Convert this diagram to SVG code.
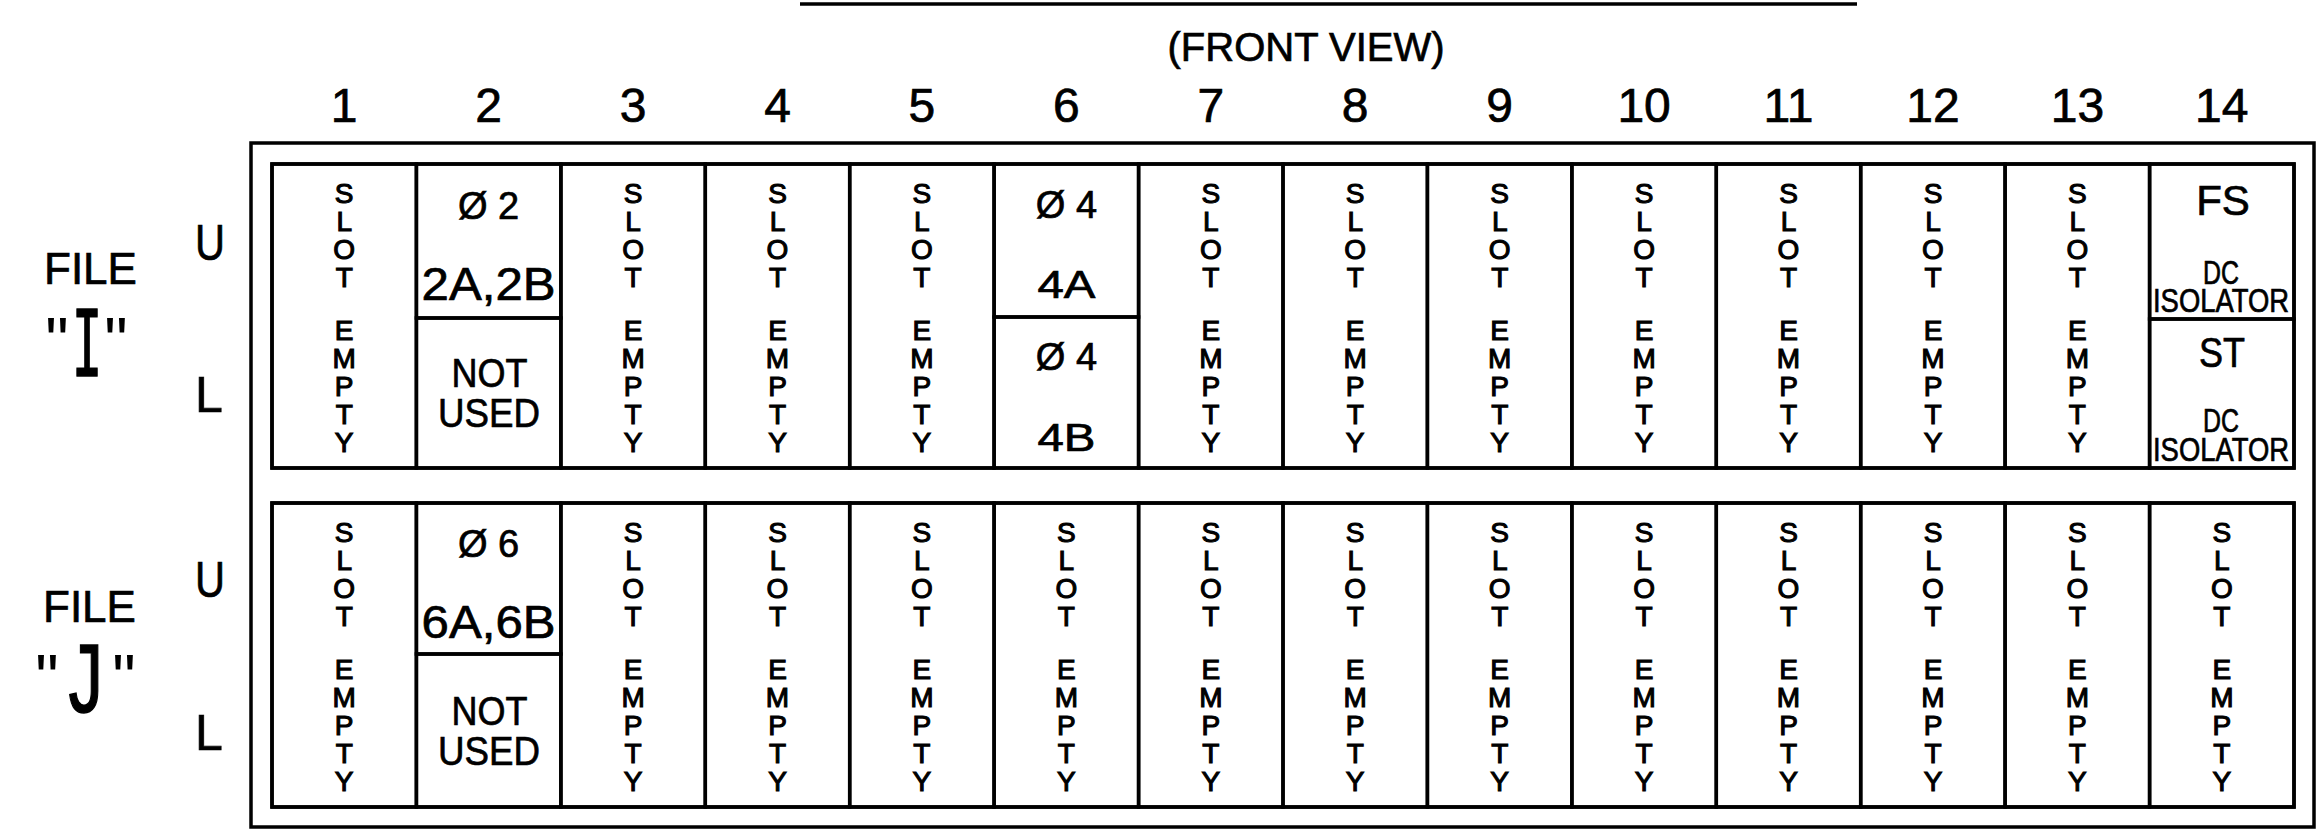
<svg xmlns="http://www.w3.org/2000/svg" width="2318" height="829" viewBox="0 0 2318 829">
<style>
  text { font-family: "Liberation Sans", Arial, sans-serif; fill: #000; stroke: #000; stroke-width: 0.7; }
  .ln { fill: none; stroke: #000; stroke-width: 3.5; }
  .cell { fill: none; stroke: #000; stroke-width: 3.5; }
  .num { font-size: 48px; text-anchor: middle; }
  .v { font-size: 28px; text-anchor: middle; stroke-width: 1.1; }
  .lbl { font-size: 44px; }
  .ul { font-size: 50px; text-anchor: middle; }
  .ph { font-size: 38px; text-anchor: middle; }
  .big { font-size: 46px; text-anchor: middle; }
  .nu { font-size: 41px; text-anchor: middle; }
  .fs { font-size: 42px; text-anchor: middle; }
  .dc { font-size: 33px; text-anchor: middle; }
  .qt { font-size: 66px; text-anchor: middle; stroke-width: 0; }
  .mono { font-family: "Liberation Mono", "Courier New", monospace; font-size: 102px; text-anchor: middle; stroke-width: 1.5; }
</style>
<rect width="2318" height="829" fill="#fff"/>

<g id="header">
  <line class="ln" x1="800" y1="4" x2="1857" y2="4" stroke-width="3"/>
  <text x="1306" y="61" font-size="40" text-anchor="middle">(FRONT VIEW)</text>
  <text class="num" x="344.2" y="122">1</text>
  <text class="num" x="488.6" y="122">2</text>
  <text class="num" x="633.1" y="122">3</text>
  <text class="num" x="777.5" y="122">4</text>
  <text class="num" x="921.9" y="122">5</text>
  <text class="num" x="1066.4" y="122">6</text>
  <text class="num" x="1210.8" y="122">7</text>
  <text class="num" x="1355.2" y="122">8</text>
  <text class="num" x="1499.7" y="122">9</text>
  <text class="num" x="1644.1" y="122">10</text>
  <text class="num" x="1788.5" y="122">11</text>
  <text class="num" x="1933" y="122">12</text>
  <text class="num" x="2077.4" y="122">13</text>
  <text class="num" x="2221.8" y="122">14</text>
</g>

<g id="frame">
  <rect class="ln" x="251" y="143" width="2063" height="684"/>
  <rect class="ln" x="272" y="164" width="2022" height="304"/>
  <rect class="ln" x="272" y="503" width="2022" height="304"/>
</g>

<g id="file-I-labels">
  <text class="lbl" x="44" y="284">FILE</text>
  <text class="qt" x="57" y="364">"</text>
  <text class="mono" x="174" y="376" transform="scale(0.5,1)">I</text>
  <text class="qt" x="116" y="364">"</text>
  <text class="ul" x="210" y="260" textLength="30" lengthAdjust="spacingAndGlyphs">U</text>
  <text class="ul" x="209" y="412">L</text>
</g>
<g id="file-J-labels">
  <text class="lbl" x="43" y="622">FILE</text>
  <text class="qt" x="47" y="701">"</text>
  <text class="mono" x="121.4" y="712" transform="scale(0.7,1)">J</text>
  <text class="qt" x="124" y="701">"</text>
  <text class="ul" x="210" y="597" textLength="30" lengthAdjust="spacingAndGlyphs">U</text>
  <text class="ul" x="209" y="750">L</text>
</g>

<!-- FILE I (upper) -->
<g id="I-1"><rect class="cell" x="272" y="164" width="144.4" height="304"/>
  <text class="v" y="203"><tspan x="344.2">S</tspan><tspan x="344.2" dy="28">L</tspan><tspan x="344.2" dy="28">O</tspan><tspan x="344.2" dy="28">T</tspan></text>
  <text class="v" y="340"><tspan x="344.2">E</tspan><tspan x="344.2" dy="28">M</tspan><tspan x="344.2" dy="28">P</tspan><tspan x="344.2" dy="28">T</tspan><tspan x="344.2" dy="28">Y</tspan></text></g>
<g id="I-2U"><rect class="cell" x="416.4" y="164" width="144.5" height="154"/>
  <text class="ph" x="488.6" y="219">Ø 2</text>
  <text class="big" x="488.6" y="300" textLength="134" lengthAdjust="spacingAndGlyphs">2A,2B</text></g>
<g id="I-2L"><rect class="cell" x="416.4" y="318" width="144.5" height="150"/>
  <text class="nu" x="489.5" y="387" textLength="76" lengthAdjust="spacingAndGlyphs">NOT</text>
  <text class="nu" x="489" y="427" textLength="102" lengthAdjust="spacingAndGlyphs">USED</text></g>
<g id="I-3"><rect class="cell" x="560.9" y="164" width="144.4" height="304"/>
  <text class="v" y="203"><tspan x="633.1">S</tspan><tspan x="633.1" dy="28">L</tspan><tspan x="633.1" dy="28">O</tspan><tspan x="633.1" dy="28">T</tspan></text>
  <text class="v" y="340"><tspan x="633.1">E</tspan><tspan x="633.1" dy="28">M</tspan><tspan x="633.1" dy="28">P</tspan><tspan x="633.1" dy="28">T</tspan><tspan x="633.1" dy="28">Y</tspan></text></g>
<g id="I-4"><rect class="cell" x="705.3" y="164" width="144.4" height="304"/>
  <text class="v" y="203"><tspan x="777.5">S</tspan><tspan x="777.5" dy="28">L</tspan><tspan x="777.5" dy="28">O</tspan><tspan x="777.5" dy="28">T</tspan></text>
  <text class="v" y="340"><tspan x="777.5">E</tspan><tspan x="777.5" dy="28">M</tspan><tspan x="777.5" dy="28">P</tspan><tspan x="777.5" dy="28">T</tspan><tspan x="777.5" dy="28">Y</tspan></text></g>
<g id="I-5"><rect class="cell" x="849.7" y="164" width="144.4" height="304"/>
  <text class="v" y="203"><tspan x="921.9">S</tspan><tspan x="921.9" dy="28">L</tspan><tspan x="921.9" dy="28">O</tspan><tspan x="921.9" dy="28">T</tspan></text>
  <text class="v" y="340"><tspan x="921.9">E</tspan><tspan x="921.9" dy="28">M</tspan><tspan x="921.9" dy="28">P</tspan><tspan x="921.9" dy="28">T</tspan><tspan x="921.9" dy="28">Y</tspan></text></g>
<g id="I-6U"><rect class="cell" x="994.1" y="164" width="144.5" height="153"/>
  <text class="ph" x="1066.4" y="218">Ø 4</text>
  <text class="ph" x="1066.4" y="298" font-size="40" textLength="58" lengthAdjust="spacingAndGlyphs">4A</text></g>
<g id="I-6L"><rect class="cell" x="994.1" y="317" width="144.5" height="151"/>
  <text class="ph" x="1066.4" y="370">Ø 4</text>
  <text class="ph" x="1066.4" y="451" font-size="40" textLength="58" lengthAdjust="spacingAndGlyphs">4B</text></g>
<g id="I-7"><rect class="cell" x="1138.6" y="164" width="144.4" height="304"/>
  <text class="v" y="203"><tspan x="1210.8">S</tspan><tspan x="1210.8" dy="28">L</tspan><tspan x="1210.8" dy="28">O</tspan><tspan x="1210.8" dy="28">T</tspan></text>
  <text class="v" y="340"><tspan x="1210.8">E</tspan><tspan x="1210.8" dy="28">M</tspan><tspan x="1210.8" dy="28">P</tspan><tspan x="1210.8" dy="28">T</tspan><tspan x="1210.8" dy="28">Y</tspan></text></g>
<g id="I-8"><rect class="cell" x="1283" y="164" width="144.4" height="304"/>
  <text class="v" y="203"><tspan x="1355.2">S</tspan><tspan x="1355.2" dy="28">L</tspan><tspan x="1355.2" dy="28">O</tspan><tspan x="1355.2" dy="28">T</tspan></text>
  <text class="v" y="340"><tspan x="1355.2">E</tspan><tspan x="1355.2" dy="28">M</tspan><tspan x="1355.2" dy="28">P</tspan><tspan x="1355.2" dy="28">T</tspan><tspan x="1355.2" dy="28">Y</tspan></text></g>
<g id="I-9"><rect class="cell" x="1427.4" y="164" width="144.5" height="304"/>
  <text class="v" y="203"><tspan x="1499.7">S</tspan><tspan x="1499.7" dy="28">L</tspan><tspan x="1499.7" dy="28">O</tspan><tspan x="1499.7" dy="28">T</tspan></text>
  <text class="v" y="340"><tspan x="1499.7">E</tspan><tspan x="1499.7" dy="28">M</tspan><tspan x="1499.7" dy="28">P</tspan><tspan x="1499.7" dy="28">T</tspan><tspan x="1499.7" dy="28">Y</tspan></text></g>
<g id="I-10"><rect class="cell" x="1571.9" y="164" width="144.4" height="304"/>
  <text class="v" y="203"><tspan x="1644.1">S</tspan><tspan x="1644.1" dy="28">L</tspan><tspan x="1644.1" dy="28">O</tspan><tspan x="1644.1" dy="28">T</tspan></text>
  <text class="v" y="340"><tspan x="1644.1">E</tspan><tspan x="1644.1" dy="28">M</tspan><tspan x="1644.1" dy="28">P</tspan><tspan x="1644.1" dy="28">T</tspan><tspan x="1644.1" dy="28">Y</tspan></text></g>
<g id="I-11"><rect class="cell" x="1716.3" y="164" width="144.4" height="304"/>
  <text class="v" y="203"><tspan x="1788.5">S</tspan><tspan x="1788.5" dy="28">L</tspan><tspan x="1788.5" dy="28">O</tspan><tspan x="1788.5" dy="28">T</tspan></text>
  <text class="v" y="340"><tspan x="1788.5">E</tspan><tspan x="1788.5" dy="28">M</tspan><tspan x="1788.5" dy="28">P</tspan><tspan x="1788.5" dy="28">T</tspan><tspan x="1788.5" dy="28">Y</tspan></text></g>
<g id="I-12"><rect class="cell" x="1860.7" y="164" width="144.4" height="304"/>
  <text class="v" y="203"><tspan x="1933">S</tspan><tspan x="1933" dy="28">L</tspan><tspan x="1933" dy="28">O</tspan><tspan x="1933" dy="28">T</tspan></text>
  <text class="v" y="340"><tspan x="1933">E</tspan><tspan x="1933" dy="28">M</tspan><tspan x="1933" dy="28">P</tspan><tspan x="1933" dy="28">T</tspan><tspan x="1933" dy="28">Y</tspan></text></g>
<g id="I-13"><rect class="cell" x="2005.1" y="164" width="144.5" height="304"/>
  <text class="v" y="203"><tspan x="2077.4">S</tspan><tspan x="2077.4" dy="28">L</tspan><tspan x="2077.4" dy="28">O</tspan><tspan x="2077.4" dy="28">T</tspan></text>
  <text class="v" y="340"><tspan x="2077.4">E</tspan><tspan x="2077.4" dy="28">M</tspan><tspan x="2077.4" dy="28">P</tspan><tspan x="2077.4" dy="28">T</tspan><tspan x="2077.4" dy="28">Y</tspan></text></g>
<g id="I-14U"><rect class="cell" x="2149.6" y="164" width="144.4" height="155"/>
  <text class="fs" x="2223" y="215">FS</text>
  <text class="dc" x="2221" y="284" textLength="36" lengthAdjust="spacingAndGlyphs">DC</text>
  <text class="dc" x="2221" y="312" textLength="136" lengthAdjust="spacingAndGlyphs">ISOLATOR</text></g>
<g id="I-14L"><rect class="cell" x="2149.6" y="319" width="144.4" height="149"/>
  <text class="fs" x="2222" y="367" textLength="46" lengthAdjust="spacingAndGlyphs">ST</text>
  <text class="dc" x="2221" y="432" textLength="36" lengthAdjust="spacingAndGlyphs">DC</text>
  <text class="dc" x="2221" y="461" textLength="136" lengthAdjust="spacingAndGlyphs">ISOLATOR</text></g>

<!-- FILE J (lower) -->
<g id="J-1"><rect class="cell" x="272" y="503" width="144.4" height="304"/>
  <text class="v" y="542"><tspan x="344.2">S</tspan><tspan x="344.2" dy="28">L</tspan><tspan x="344.2" dy="28">O</tspan><tspan x="344.2" dy="28">T</tspan></text>
  <text class="v" y="679"><tspan x="344.2">E</tspan><tspan x="344.2" dy="28">M</tspan><tspan x="344.2" dy="28">P</tspan><tspan x="344.2" dy="28">T</tspan><tspan x="344.2" dy="28">Y</tspan></text></g>
<g id="J-2U"><rect class="cell" x="416.4" y="503" width="144.5" height="151"/>
  <text class="ph" x="488.6" y="557">Ø 6</text>
  <text class="big" x="488.6" y="638" textLength="134" lengthAdjust="spacingAndGlyphs">6A,6B</text></g>
<g id="J-2L"><rect class="cell" x="416.4" y="654" width="144.5" height="153"/>
  <text class="nu" x="489.5" y="725" textLength="76" lengthAdjust="spacingAndGlyphs">NOT</text>
  <text class="nu" x="489" y="765" textLength="102" lengthAdjust="spacingAndGlyphs">USED</text></g>
<g id="J-3"><rect class="cell" x="560.9" y="503" width="144.4" height="304"/>
  <text class="v" y="542"><tspan x="633.1">S</tspan><tspan x="633.1" dy="28">L</tspan><tspan x="633.1" dy="28">O</tspan><tspan x="633.1" dy="28">T</tspan></text>
  <text class="v" y="679"><tspan x="633.1">E</tspan><tspan x="633.1" dy="28">M</tspan><tspan x="633.1" dy="28">P</tspan><tspan x="633.1" dy="28">T</tspan><tspan x="633.1" dy="28">Y</tspan></text></g>
<g id="J-4"><rect class="cell" x="705.3" y="503" width="144.4" height="304"/>
  <text class="v" y="542"><tspan x="777.5">S</tspan><tspan x="777.5" dy="28">L</tspan><tspan x="777.5" dy="28">O</tspan><tspan x="777.5" dy="28">T</tspan></text>
  <text class="v" y="679"><tspan x="777.5">E</tspan><tspan x="777.5" dy="28">M</tspan><tspan x="777.5" dy="28">P</tspan><tspan x="777.5" dy="28">T</tspan><tspan x="777.5" dy="28">Y</tspan></text></g>
<g id="J-5"><rect class="cell" x="849.7" y="503" width="144.4" height="304"/>
  <text class="v" y="542"><tspan x="921.9">S</tspan><tspan x="921.9" dy="28">L</tspan><tspan x="921.9" dy="28">O</tspan><tspan x="921.9" dy="28">T</tspan></text>
  <text class="v" y="679"><tspan x="921.9">E</tspan><tspan x="921.9" dy="28">M</tspan><tspan x="921.9" dy="28">P</tspan><tspan x="921.9" dy="28">T</tspan><tspan x="921.9" dy="28">Y</tspan></text></g>
<g id="J-6"><rect class="cell" x="994.1" y="503" width="144.5" height="304"/>
  <text class="v" y="542"><tspan x="1066.4">S</tspan><tspan x="1066.4" dy="28">L</tspan><tspan x="1066.4" dy="28">O</tspan><tspan x="1066.4" dy="28">T</tspan></text>
  <text class="v" y="679"><tspan x="1066.4">E</tspan><tspan x="1066.4" dy="28">M</tspan><tspan x="1066.4" dy="28">P</tspan><tspan x="1066.4" dy="28">T</tspan><tspan x="1066.4" dy="28">Y</tspan></text></g>
<g id="J-7"><rect class="cell" x="1138.6" y="503" width="144.4" height="304"/>
  <text class="v" y="542"><tspan x="1210.8">S</tspan><tspan x="1210.8" dy="28">L</tspan><tspan x="1210.8" dy="28">O</tspan><tspan x="1210.8" dy="28">T</tspan></text>
  <text class="v" y="679"><tspan x="1210.8">E</tspan><tspan x="1210.8" dy="28">M</tspan><tspan x="1210.8" dy="28">P</tspan><tspan x="1210.8" dy="28">T</tspan><tspan x="1210.8" dy="28">Y</tspan></text></g>
<g id="J-8"><rect class="cell" x="1283" y="503" width="144.4" height="304"/>
  <text class="v" y="542"><tspan x="1355.2">S</tspan><tspan x="1355.2" dy="28">L</tspan><tspan x="1355.2" dy="28">O</tspan><tspan x="1355.2" dy="28">T</tspan></text>
  <text class="v" y="679"><tspan x="1355.2">E</tspan><tspan x="1355.2" dy="28">M</tspan><tspan x="1355.2" dy="28">P</tspan><tspan x="1355.2" dy="28">T</tspan><tspan x="1355.2" dy="28">Y</tspan></text></g>
<g id="J-9"><rect class="cell" x="1427.4" y="503" width="144.5" height="304"/>
  <text class="v" y="542"><tspan x="1499.7">S</tspan><tspan x="1499.7" dy="28">L</tspan><tspan x="1499.7" dy="28">O</tspan><tspan x="1499.7" dy="28">T</tspan></text>
  <text class="v" y="679"><tspan x="1499.7">E</tspan><tspan x="1499.7" dy="28">M</tspan><tspan x="1499.7" dy="28">P</tspan><tspan x="1499.7" dy="28">T</tspan><tspan x="1499.7" dy="28">Y</tspan></text></g>
<g id="J-10"><rect class="cell" x="1571.9" y="503" width="144.4" height="304"/>
  <text class="v" y="542"><tspan x="1644.1">S</tspan><tspan x="1644.1" dy="28">L</tspan><tspan x="1644.1" dy="28">O</tspan><tspan x="1644.1" dy="28">T</tspan></text>
  <text class="v" y="679"><tspan x="1644.1">E</tspan><tspan x="1644.1" dy="28">M</tspan><tspan x="1644.1" dy="28">P</tspan><tspan x="1644.1" dy="28">T</tspan><tspan x="1644.1" dy="28">Y</tspan></text></g>
<g id="J-11"><rect class="cell" x="1716.3" y="503" width="144.4" height="304"/>
  <text class="v" y="542"><tspan x="1788.5">S</tspan><tspan x="1788.5" dy="28">L</tspan><tspan x="1788.5" dy="28">O</tspan><tspan x="1788.5" dy="28">T</tspan></text>
  <text class="v" y="679"><tspan x="1788.5">E</tspan><tspan x="1788.5" dy="28">M</tspan><tspan x="1788.5" dy="28">P</tspan><tspan x="1788.5" dy="28">T</tspan><tspan x="1788.5" dy="28">Y</tspan></text></g>
<g id="J-12"><rect class="cell" x="1860.7" y="503" width="144.4" height="304"/>
  <text class="v" y="542"><tspan x="1933">S</tspan><tspan x="1933" dy="28">L</tspan><tspan x="1933" dy="28">O</tspan><tspan x="1933" dy="28">T</tspan></text>
  <text class="v" y="679"><tspan x="1933">E</tspan><tspan x="1933" dy="28">M</tspan><tspan x="1933" dy="28">P</tspan><tspan x="1933" dy="28">T</tspan><tspan x="1933" dy="28">Y</tspan></text></g>
<g id="J-13"><rect class="cell" x="2005.1" y="503" width="144.5" height="304"/>
  <text class="v" y="542"><tspan x="2077.4">S</tspan><tspan x="2077.4" dy="28">L</tspan><tspan x="2077.4" dy="28">O</tspan><tspan x="2077.4" dy="28">T</tspan></text>
  <text class="v" y="679"><tspan x="2077.4">E</tspan><tspan x="2077.4" dy="28">M</tspan><tspan x="2077.4" dy="28">P</tspan><tspan x="2077.4" dy="28">T</tspan><tspan x="2077.4" dy="28">Y</tspan></text></g>
<g id="J-14"><rect class="cell" x="2149.6" y="503" width="144.4" height="304"/>
  <text class="v" y="542"><tspan x="2221.8">S</tspan><tspan x="2221.8" dy="28">L</tspan><tspan x="2221.8" dy="28">O</tspan><tspan x="2221.8" dy="28">T</tspan></text>
  <text class="v" y="679"><tspan x="2221.8">E</tspan><tspan x="2221.8" dy="28">M</tspan><tspan x="2221.8" dy="28">P</tspan><tspan x="2221.8" dy="28">T</tspan><tspan x="2221.8" dy="28">Y</tspan></text></g>
</svg>
